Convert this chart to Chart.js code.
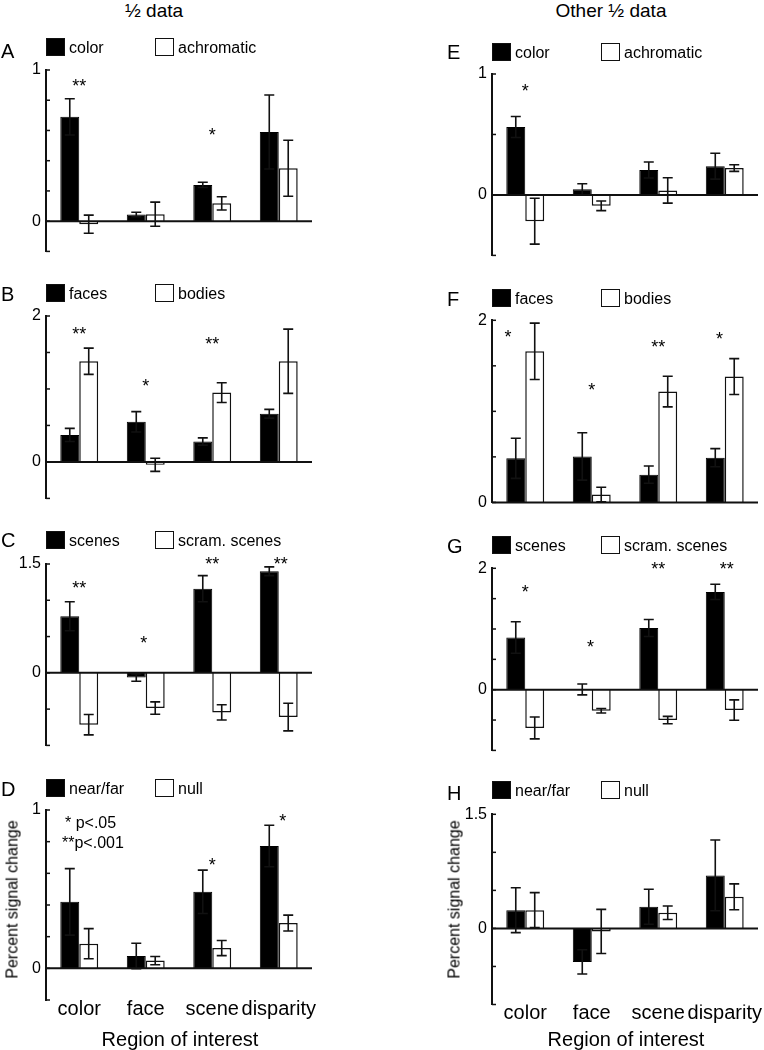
<!DOCTYPE html>
<html><head><meta charset="utf-8">
<script src="https://cdn.jsdelivr.net/npm/chart.js@4.4.1/dist/chart.umd.min.js"></script>
<style>
html,body{margin:0;padding:0;background:#fff;}
body{width:764px;height:1050px;overflow:hidden;position:relative;font-family:"Liberation Sans",Arial,sans-serif;color:#000;}
canvas{position:absolute;}
.t{position:absolute;white-space:nowrap;z-index:2;}
.box{position:absolute;width:17px;height:16px;border:1.5px solid #111;z-index:2;}
</style></head>
<body>
<script>
// ---------- data ----------
const categories = ['color', 'face', 'scene', 'disparity'];
const columnTitles = ['½ data', 'Other ½ data'];
const xAxisTitle = 'Region of interest';
const yAxisTitle = 'Percent signal change';
const sigNotes = ['* p<.05', '**p<.001'];

// A
const aNames = ['color', 'achromatic'];
const aBlack = [0.69, 0.044, 0.24, 0.59];
const aBlackErr = [0.12, 0.015, 0.017, 0.245];
const aWhite = [-0.02, 0.046, 0.118, 0.35];
const aWhiteErr = [0.06, 0.08, 0.044, 0.185];
const aStars = ['**', '', '*', ''];
const aStarY = [0.92, null, 0.6, null];
const aStarX = [0, 1, 2, 3];
const aTicks = {min: -0.2, max: 1, step: 0.2};

// B
const bNames = ['faces', 'bodies'];
const bBlack = [0.37, 0.55, 0.28, 0.66];
const bBlackErr = [0.09, 0.14, 0.05, 0.06];
const bWhite = [1.38, -0.04, 0.95, 1.38];
const bWhiteErr = [0.18, 0.09, 0.135, 0.44];
const bStars = ['**', '*', '**', ''];
const bStarY = [1.81, 1.10, 1.68, null];
const bStarX = [0, 1, 2, 3];
const bTicks = {min: -0.5, max: 2, step: 0.5};

// C
const cNames = ['scenes', 'scram. scenes'];
const cBlack = [0.78, -0.065, 1.16, 1.40];
const cBlackErr = [0.2, 0.05, 0.18, 0.06];
const cWhite = [-0.715, -0.485, -0.545, -0.61];
const cWhiteErr = [0.14, 0.085, 0.105, 0.19];
const cStars = ['**', '*', '**', '**'];
const cStarY = [1.23, 0.47, 1.56, 1.56];
const cStarX = [0, 0.97, 2, 3.03];
const cTicks = {min: -1, max: 1.5, step: 0.5};

// D
const dNames = ['near/far', 'null'];
const dBlack = [0.42, 0.078, 0.483, 0.773];
const dBlackErr = [0.21, 0.08, 0.137, 0.131];
const dWhite = [0.156, 0.049, 0.128, 0.286];
const dWhiteErr = [0.095, 0.026, 0.048, 0.05];
const dStars = ['', '', '*', '*'];
const dStarY = [null, null, 0.68, 0.96];
const dStarX = [0, 1, 2, 3.06];
const dTicks = {min: -0.2, max: 1, step: 0.2};

// E
const eNames = ['color', 'achromatic'];
const eBlack = [0.562, 0.047, 0.206, 0.238];
const eBlackErr = [0.087, 0.045, 0.066, 0.107];
const eWhite = [-0.217, -0.09, 0.037, 0.222];
const eWhiteErr = [0.19, 0.04, 0.105, 0.027];
const eStars = ['*', '', '', ''];
const eStarY = [0.894, null, null, null];
const eStarX = [0, 1, 2, 3];
const eTicks = {min: -0.5, max: 1, step: 0.5};

// F
const fNames = ['faces', 'bodies'];
const fBlack = [0.484, 0.505, 0.305, 0.491];
const fBlackErr = [0.22, 0.26, 0.095, 0.1];
const fWhite = [1.659, 0.087, 1.217, 1.382];
const fWhiteErr = [0.31, 0.08, 0.168, 0.197];
const fStars = ['*', '*', '**', '*'];
const fStarY = [1.86, 1.28, 1.75, 1.84];
const fStarX = [-0.26, 1, 2, 2.92];
const fTicks = {min: 0, max: 2, step: 0.5};

// G
const gNames = ['scenes', 'scram. scenes'];
const gBlack = [0.86, 0.005, 1.017, 1.611];
const gBlackErr = [0.26, 0.09, 0.14, 0.126];
const gWhite = [-0.63, -0.346, -0.5, -0.336];
const gWhiteErr = [0.18, 0.037, 0.06, 0.168];
const gStars = ['*', '*', '**', '**'];
const gStarY = [1.68, 0.77, 2.06, 2.06];
const gStarX = [0, 0.98, 2, 3.03];
const gTicks = {min: -1, max: 2, step: 0.5};

// H
const hNames = ['near/far', 'null'];
const hBlack = [0.24, -0.44, 0.285, 0.697];
const hBlackErr = [0.295, 0.16, 0.23, 0.465];
const hWhite = [0.24, -0.04, 0.206, 0.416];
const hWhiteErr = [0.23, 0.29, 0.088, 0.17];
const hStars = ['', '', '', ''];
const hStarY = [null, null, null, null];
const hStarX = [0, 1, 2, 3];
const hTicks = {min: -1, max: 1.5, step: 0.5};

// ---------- layout (pixels) ----------
const FONT = '"Liberation Sans", Arial, sans-serif';
Chart.defaults.font.family = FONT;
Chart.defaults.color = '#000';

const cols = [
  {left: 0, axisX: 46, right: 312, letterX: 1, titleX: 154},
  {left: 382, axisX: 492, right: 758, letterX: 447, titleX: 611}
];

const panels = [
  {letter:'A', col:0, top:70,    bottom:259.6, legendTop:38,    letterY:51,
   names:aNames, black:aBlack, blackErr:aBlackErr, white:aWhite, whiteErr:aWhiteErr, stars:aStars, starY:aStarY, starX:aStarX, ticks:aTicks},
  {letter:'B', col:0, top:316,   bottom:507,   legendTop:284.3, letterY:294,
   names:bNames, black:bBlack, blackErr:bBlackErr, white:bWhite, whiteErr:bWhiteErr, stars:bStars, starY:bStarY, starX:bStarX, ticks:bTicks},
  {letter:'C', col:0, top:564,   bottom:754,   legendTop:530.7, letterY:540,
   names:cNames, black:cBlack, blackErr:cBlackErr, white:cWhite, whiteErr:cWhiteErr, stars:cStars, starY:cStarY, starX:cStarX, ticks:cTicks},
  {letter:'D', col:0, top:810,   bottom:1000,  legendTop:779,   letterY:789, xlabels:true,
   names:dNames, black:dBlack, blackErr:dBlackErr, white:dWhite, whiteErr:dWhiteErr, stars:dStars, starY:dStarY, starX:dStarX, ticks:dTicks},
  {letter:'E', col:1, top:74,    bottom:263.5, legendTop:42.7,  letterY:52,
   names:eNames, black:eBlack, blackErr:eBlackErr, white:eWhite, whiteErr:eWhiteErr, stars:eStars, starY:eStarY, starX:eStarX, ticks:eTicks},
  {letter:'F', col:1, top:320.3, bottom:510.3, legendTop:288.7, letterY:299,
   names:fNames, black:fBlack, blackErr:fBlackErr, white:fWhite, whiteErr:fWhiteErr, stars:fStars, starY:fStarY, starX:fStarX, ticks:fTicks},
  {letter:'G', col:1, top:568.3, bottom:759,   legendTop:535.7, letterY:546,
   names:gNames, black:gBlack, blackErr:gBlackErr, white:gWhite, whiteErr:gWhiteErr, stars:gStars, starY:gStarY, starX:gStarX, ticks:gTicks},
  {letter:'H', col:1, top:814.3, bottom:1004.5,legendTop:781,   letterY:793, xlabels:true,
   names:hNames, black:hBlack, blackErr:hBlackErr, white:hWhite, whiteErr:hWhiteErr, stars:hStars, starY:hStarY, starX:hStarX, ticks:hTicks}
];

function addText(txt, x, y, size, opts) {
  const d = document.createElement('div');
  d.className = 't';
  d.textContent = txt;
  d.style.fontSize = size + 'px';
  d.style.lineHeight = Math.round(size * 1.2) + 'px';
  d.style.left = x + 'px';
  d.style.top = (y - Math.round(size * 1.2) / 2) + 'px';
  if (opts && opts.center) d.style.transform = 'translateX(-50%)';
  if (opts && opts.rotate) { d.style.transform = 'translate(-50%,0) rotate(-90deg)'; d.style.transformOrigin = '50% 50%'; }
  document.body.appendChild(d);
  return d;
}
function addBox(x, y, fill) {
  const b = document.createElement('div');
  b.className = 'box';
  b.style.left = x + 'px';
  b.style.top = y + 'px';
  b.style.background = fill;
  document.body.appendChild(b);
}

function decor(p) {
  return {
    id: 'decor',
    afterDatasetsDraw(chart) {
      const ctx = chart.ctx, ca = chart.chartArea, y = chart.scales.y, x = chart.scales.x;
      ctx.save();
      ctx.strokeStyle = '#111';
      // zero line
      const y0 = y.getPixelForValue(0);
      ctx.lineWidth = 2;
      ctx.beginPath(); ctx.moveTo(ca.left, y0); ctx.lineTo(ca.right, y0); ctx.stroke();
      // inward ticks
      ctx.lineWidth = 1.5;
      y.ticks.forEach(t => {
        const py = y.getPixelForValue(t.value);
        ctx.beginPath(); ctx.moveTo(ca.left, py); ctx.lineTo(ca.left + 4, py); ctx.stroke();
      });
      // error bars
      ctx.lineWidth = 1.6;
      [p.blackErr, p.whiteErr].forEach((errs, i) => {
        const meta = chart.getDatasetMeta(i);
        const vals = chart.data.datasets[i].data;
        meta.data.forEach((bar, j) => {
          const v = vals[j], e = errs[j];
          const t = y.getPixelForValue(v + e), b = y.getPixelForValue(v - e);
          ctx.beginPath();
          ctx.moveTo(bar.x, t); ctx.lineTo(bar.x, b);
          ctx.moveTo(bar.x - 5, t); ctx.lineTo(bar.x + 5, t);
          ctx.moveTo(bar.x - 5, b); ctx.lineTo(bar.x + 5, b);
          ctx.stroke();
        });
      });
      // significance stars
      ctx.fillStyle = '#000';
      ctx.font = '18px ' + FONT;
      ctx.textAlign = 'center';
      ctx.textBaseline = 'alphabetic';
      p.stars.forEach((s, j) => {
        if (!s) return;
        const px = x.getPixelForValue(p.starX[j]);
        const py = y.getPixelForValue(p.starY[j]);
        ctx.fillText(s, px, py + 0.57 * 18);
      });
      ctx.restore();
    }
  };
}

panels.forEach(p => {
  const c = cols[p.col];
  const topPad = 16;
  const xH = p.xlabels ? 40 : 0;
  const cTop = Math.floor(p.top - topPad);
  const cH = Math.ceil(p.bottom + xH + 6 - cTop);
  const canvas = document.createElement('canvas');
  canvas.width = 382; canvas.height = cH;
  canvas.style.left = c.left + 'px';
  canvas.style.top = cTop + 'px';
  canvas.style.width = '382px'; canvas.style.height = cH + 'px';
  document.body.appendChild(canvas);
  const tk = p.ticks;
  new Chart(canvas, {
    type: 'bar',
    data: {
      labels: categories,
      datasets: [
        {label: p.names[0], data: p.black, backgroundColor: '#000', borderColor: '#000', borderWidth: 1},
        {label: p.names[1], data: p.white, backgroundColor: '#fff', borderColor: '#111', borderWidth: 1.5}
      ]
    },
    options: {
      responsive: false, animation: false, devicePixelRatio: 1,
      datasets: {bar: {categoryPercentage: 0.57, barPercentage: 1}},
      layout: {autoPadding: false, padding: {
        top: p.top - cTop, left: 0,
        right: c.left + 382 - c.right,
        bottom: cTop + cH - p.bottom - xH}},
      plugins: {legend: {display: false}, tooltip: {enabled: false}},
      scales: {
        x: {
          display: !!p.xlabels,
          grid: {display: false, drawTicks: false},
          border: {display: false},
          ticks: {font: {size: 20}, color: '#000', padding: -3, maxRotation: 0, autoSkip: false},
          afterFit: s => { s.height = xH; }
        },
        y: {
          min: tk.min, max: tk.max,
          grid: {display: false, drawTicks: false},
          border: {display: true, color: '#111', width: 2},
          ticks: {
            stepSize: tk.step, color: '#000', font: {size: 16}, padding: 5,
            callback: v => (Math.abs(v) < 1e-9 ? '0' : (Math.abs(v - tk.max) < 1e-9 ? String(tk.max) : ''))
          },
          afterFit: s => { s.width = c.axisX - c.left; }
        }
      }
    },
    plugins: [decor(p)]
  });

  // panel letter and legend
  addText(p.letter, c.letterX, p.letterY, 20);
  addBox(c.axisX, p.legendTop, '#000');
  addText(p.names[0], c.axisX + 23, p.legendTop + 9.5, 16);
  addBox(c.axisX + 109, p.legendTop, '#fff');
  addText(p.names[1], c.axisX + 132, p.legendTop + 9.5, 16);

  if (p.xlabels) {
    addText(xAxisTitle, (c.axisX + c.right) / 2 + 1, 1039, 20, {center: true});
    addText(yAxisTitle, c.left === 0 ? 12 : 454, 899, 16, {rotate: true});
  }
});

// column titles
cols.forEach((c, i) => addText(columnTitles[i], c.titleX, 10, 19, {center: true}));
// significance notes
addText(sigNotes[0], 65, 822, 16);
addText(sigNotes[1], 62, 842, 16);
</script>
</body></html>
